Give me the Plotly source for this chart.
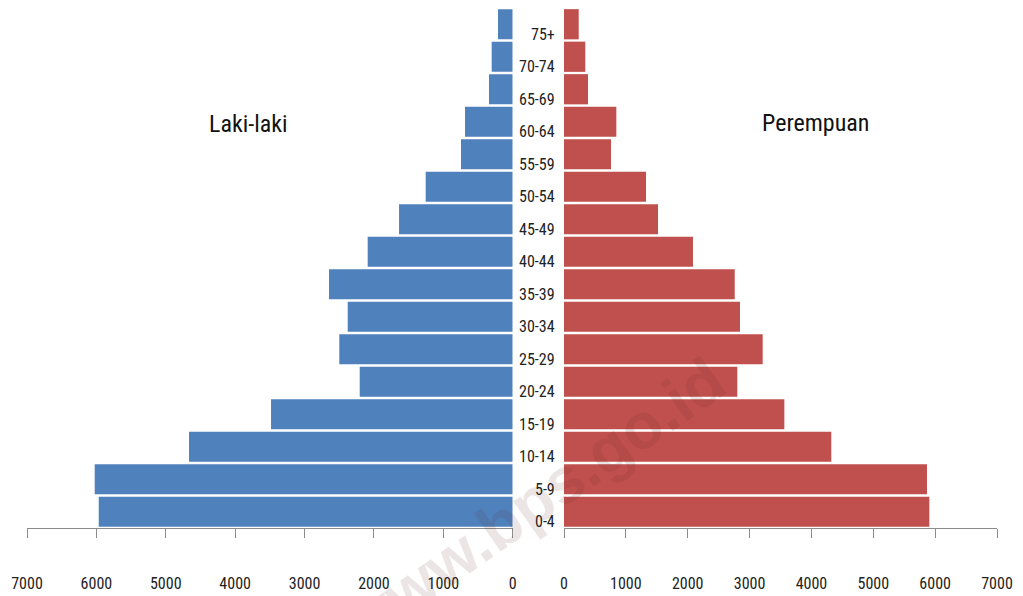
import plotly.graph_objects as go

age_groups = ["0-4", "5-9", "10-14", "15-19", "20-24", "25-29", "30-34", "35-39",
              "40-44", "45-49", "50-54", "55-59", "60-64", "65-69", "70-74", "75+"]
laki_laki = [5966, 6024, 4665, 3483, 2205, 2499, 2378, 2647,
             2090, 1638, 1254, 745, 687, 342, 303, 212]
perempuan = [5906, 5868, 4321, 3562, 2802, 3212, 2845, 2760,
             2085, 1520, 1326, 760, 846, 388, 344, 238]
tick_values = [0, 1000, 2000, 3000, 4000, 5000, 6000, 7000]
tick_labels = ["0", "1000", "2000", "3000", "4000", "5000", "6000", "7000"]

# page body has an 8px margin: figure is placed at (8, 8) in the window
OFF = 8
W, H = 1023 - OFF, 596 - OFF
FONT = "Liberation Sans Narrow, Roboto Condensed, Roboto, sans-serif"
ypos = list(range(len(age_groups)))


def px(x):
    return (x - OFF) / W


def py(y):
    return (H - (y - OFF)) / H


fig = go.Figure()
fig.add_trace(go.Bar(y=ypos, x=laki_laki, orientation="h", xaxis="x", yaxis="y",
                     marker=dict(color="#4F81BD", line=dict(width=0)), name="Laki-laki"))
fig.add_trace(go.Bar(y=ypos, x=perempuan, orientation="h", xaxis="x2", yaxis="y",
                     marker=dict(color="#C0504D", line=dict(width=0)), name="Perempuan"))

axis_common = dict(
    tickvals=tick_values, ticktext=tick_labels, showgrid=False, zeroline=False,
    showline=True, linecolor="#8c8c8c", linewidth=1.3,
    ticks="outside", ticklen=9, tickcolor="#8c8c8c", tickwidth=1.3,
    tickfont=dict(family=FONT, size=16, color="#222222"),
    ticklabelstandoff=32, anchor="y", fixedrange=True, automargin=False,
)

fig.update_layout(
    width=W, height=H,
    margin=dict(l=0, r=0, t=0, b=0, autoexpand=False),
    paper_bgcolor="white", plot_bgcolor="rgba(0,0,0,0)",
    showlegend=False, bargap=0.07,
    xaxis=dict(domain=[px(27), px(512.7)], range=[7000, 0], **axis_common),
    xaxis2=dict(domain=[px(564), px(997)], range=[0, 7000], **axis_common),
    yaxis=dict(domain=[py(528), 1.0], range=[-0.5, 15.5], visible=False,
               fixedrange=True, automargin=False),
)

annotations = []
for i, lab in enumerate(age_groups):
    annotations.append(dict(
        x=px(557), xref="paper", y=i, yref="y", text=lab, showarrow=False,
        xanchor="right", yanchor="middle", yshift=-10,
        font=dict(family=FONT, size=16, color="#222222"),
    ))
annotations.append(dict(x=px(248), y=py(124), xref="paper", yref="paper",
                        xanchor="center", yanchor="middle",
                        text="Laki-laki", showarrow=False,
                        font=dict(family=FONT, size=24, color="#111111")))
annotations.append(dict(x=px(815), y=py(123), xref="paper", yref="paper",
                        xanchor="center", yanchor="middle",
                        text="Perempuan", showarrow=False,
                        font=dict(family=FONT, size=24, color="#111111")))
annotations.append(dict(x=px(533), y=py(502), xref="paper", yref="paper",
                        xanchor="center", yanchor="middle",
                        text="<b>www.bps.go.id</b>", showarrow=False, textangle=-35,
                        font=dict(family="Liberation Sans, Arial, sans-serif", size=64,
                                  color="rgba(100,40,40,0.12)")))
fig.update_layout(annotations=annotations)

fig.write_html("out.html")
